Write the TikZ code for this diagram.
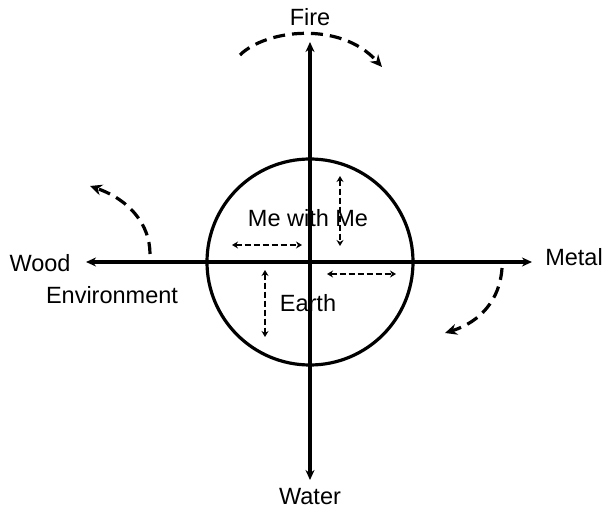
\documentclass[tikz,border=0pt]{standalone}
\usepackage{fontspec}
\setmainfont{Liberation Sans}
\usetikzlibrary{arrows.meta}
\tikzset{every picture/.style={line width=0.75pt}}
\tikzset{
  axis/.style={line width=3.2pt,-{Stealth[length=10pt,width=9pt]}},
  turn/.style={line width=3.2pt,dash pattern=on 12pt off 7pt,-{Stealth[length=12pt,width=11pt]}},
  small/.style={line width=2.4pt,dash pattern=on 6pt off 3pt,{Stealth[length=6pt,width=7pt]}-{Stealth[length=6pt,width=7pt]}},
  lbl/.style={inner sep=0.75pt,font=\fontsize{23.5}{26}\selectfont}
}
\begin{document}
\begin{tikzpicture}[x=1pt,y=1pt,yscale=-1,xscale=1]
\useasboundingbox (0,0) rectangle (610,510);
\coordinate (c) at (310,262);
% axes
\coordinate (up) at (310,42);
\coordinate (down) at (310,480);
\coordinate (left) at (86,262);
\coordinate (right) at (532,262);
\draw [axis] (c) -- (up);
\draw [axis] (c) -- (down);
\draw [axis] (c) -- (left);
\draw [axis] (c) -- (right);
% circle
\draw [line width=3.2pt] (c) circle (103);
% turning arrows
\draw [turn] (240,55) .. controls (265,30) and (340,20) .. (382,67);
\draw [turn] (150,254) .. controls (150,225) and (130,200) .. (90,186);
\draw [turn] (502,268) .. controls (500,300) and (480,322) .. (445,333);
% small arrows
\draw [small] (232,245) -- (302,245);
\draw [small] (340,176) -- (340,246);
\draw [small] (265,270) -- (265,337);
\draw [small] (327,274) -- (396,274);
% Text Node
\node [lbl] (fire) at (310,17) {Fire};
\node [lbl] (water) at (310,497) {Water};
\node [lbl] (wood) at (40,263) {Wood};
\node [lbl] (metal) at (574,257) {Metal};
\node [lbl] (env) at (112,295) {Environment};
\node [lbl] (me) at (308,218) {Me with Me};
\node [lbl] (earth) at (308,303) {Earth};
\end{tikzpicture}
\end{document}
